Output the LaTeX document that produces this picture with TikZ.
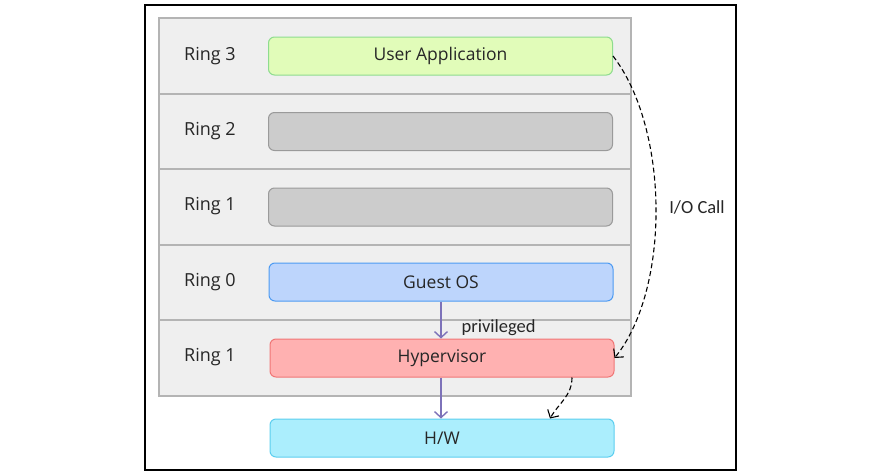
\documentclass[tikz,border=0pt]{standalone}
\usepackage{fontspec}
\setmainfont{Open Sans}
\newfontfamily\notefont{Carlito}
\usetikzlibrary{positioning,arrows.meta}
\definecolor{panelfill}{HTML}{EFEFEF}
\definecolor{panelline}{HTML}{B4B4B4}
\definecolor{appfill}{HTML}{E1FCB9}
\definecolor{appline}{HTML}{8EDC8E}
\definecolor{emptyfill}{HTML}{CCCCCC}
\definecolor{emptyline}{HTML}{9A9A9A}
\definecolor{osfill}{HTML}{BDD5FC}
\definecolor{osline}{HTML}{4D9BF2}
\definecolor{hypfill}{HTML}{FFB1B1}
\definecolor{hypline}{HTML}{F07676}
\definecolor{hwfill}{HTML}{ABEEFD}
\definecolor{hwline}{HTML}{5CCEEF}
\definecolor{flowpurple}{HTML}{7D72B9}

\begin{document}
\begin{tikzpicture}[x=1pt,y=-1pt,
    ringbox/.style={draw, line width=1pt, rounded corners=6pt, minimum width=344pt, minimum height=38pt, inner sep=0pt, text=black!85, font=\fontsize{17.5}{20}\selectfont},
    ringlabel/.style={inner sep=0pt, text=black!85, font=\fontsize{18}{21}\selectfont},
    notelabel/.style={inner sep=0pt, text=black!85, font=\notefont\fontsize{18.5}{21}\selectfont},
    flow/.style={draw=flowpurple, line width=1.4pt, -{Straight Barb[length=6pt,width=13pt]}},
    iocall/.style={dash pattern=on 5pt off 3pt, line width=1.1pt, -{Straight Barb[length=6pt,width=13pt]}}]

        \useasboundingbox (0,0) rectangle (881,474);

        \draw[line width=1.3pt] (145,5) rectangle (736,470);

        \draw[draw=panelline, fill=panelfill, line width=1.5pt] (159,18) rectangle (631,396);
        \foreach \y in {94,169,245,320}
            \draw[panelline, line width=1.2pt] (159,\y) -- (631,\y);

        \node[ringlabel] (r3) at (210,56) {Ring 3};
        \node[ringlabel] (r2) at (210,131) {Ring 2};
        \node[ringlabel] (r1a) at (210,206) {Ring 1};
        \node[ringlabel] (r0) at (210,282) {Ring 0};
        \node[ringlabel] (r1b) at (210,357) {Ring 1};

        \node[ringbox, draw=appline, fill=appfill] (app) at (440.5,56) {User Application};
        \node[ringbox, draw=emptyline, fill=emptyfill] (emptytwo) at (440.5,131.5) {};
        \node[ringbox, draw=emptyline, fill=emptyfill] (emptyone) at (440.5,207) {};
        \node[ringbox, draw=osline, fill=osfill] (guest) at (441,282) {Guest OS};
        \node[ringbox, draw=hypline, fill=hypfill] (hyp) at (442,358) {Hypervisor};
        \node[ringbox, draw=hwline, fill=hwfill] (hw) at (442,438) {H/W};

        \draw[flow] (guest.south -| 441,0) -- (hyp.north -| 441,0) node[pos=0.7, anchor=west, xshift=20pt, notelabel] (priv) {privileged};
        \draw[flow] (hyp.south -| 441,0) -- (hw.north -| 441,0);

        \draw[iocall] (app.east) .. controls (670,130) and (670,290) .. (hyp.east);
        \node[notelabel] (io) at (697,207) {I/O Call};

        \draw[iocall] ([xshift=130pt]hyp.south) to[out=-90, in=60] ([xshift=108pt]hw.north);

    \end{tikzpicture}
\end{document}
